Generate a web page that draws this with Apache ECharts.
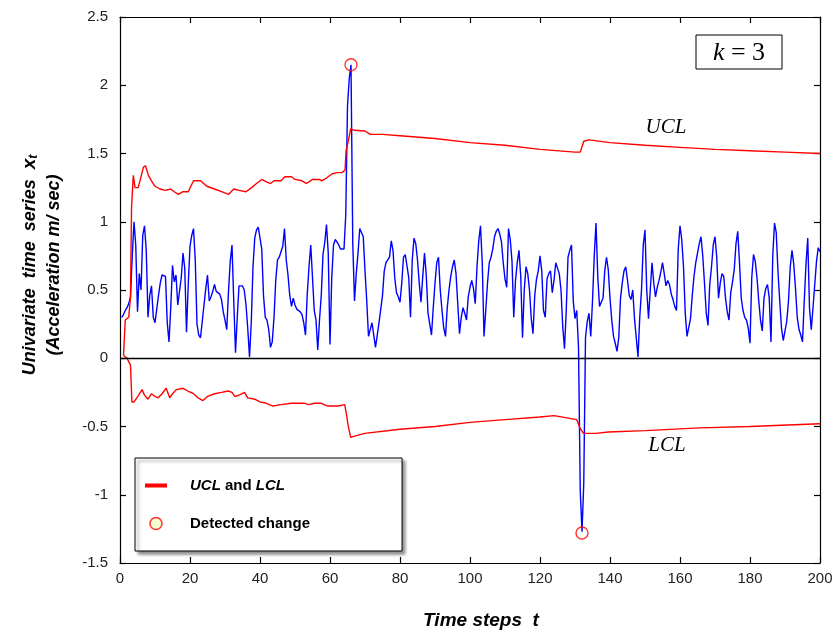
<!DOCTYPE html>
<html>
<head>
<meta charset="utf-8">
<script src="https://cdn.jsdelivr.net/npm/echarts@6/dist/echarts.min.js"></script>
<style>html,body{margin:0;padding:0;background:#fff}#chart{width:837px;height:636px}</style>
</head>
<body>
<div id="chart"></div>
<script>
// ---- data ----
var timeStep = 0.5; // sample spacing of the series (t = 0.5, 1.0, ... 200)
var accel = [
0.30,0.32,0.35,0.37,0.40,0.45,0.75,1.00,0.83,0.34,
0.62,0.50,0.90,0.97,0.79,0.30,0.46,0.53,0.30,0.26,
0.27,0.46,0.55,0.61,0.61,0.60,0.26,0.12,0.37,0.68,
0.56,0.61,0.39,0.39,0.59,0.77,0.66,0.19,0.54,0.82,
0.90,0.95,0.72,0.25,0.17,0.15,0.15,0.39,0.51,0.61,
0.42,0.45,0.49,0.54,0.49,0.48,0.47,0.43,0.34,0.28,
0.21,0.49,0.71,0.83,0.42,0.04,0.30,0.53,0.53,0.53,
0.50,0.39,0.22,0.01,0.26,0.67,0.88,0.94,0.96,0.95,
0.80,0.46,0.30,0.28,0.21,0.08,0.12,0.30,0.57,0.72,
0.74,0.78,0.82,0.95,0.72,0.61,0.46,0.38,0.44,0.39,
0.36,0.35,0.34,0.32,0.26,0.17,0.47,0.67,0.83,0.83,
0.35,0.28,0.06,0.28,0.46,0.76,0.85,0.98,0.77,0.10,
0.59,0.83,0.87,0.85,0.83,0.80,0.80,0.80,1.05,1.85,
2.05,2.15,0.85,0.42,0.62,0.77,0.95,0.96,0.89,0.64,
0.42,0.16,0.21,0.26,0.17,0.08,0.17,0.26,0.36,0.46,
0.64,0.70,0.72,0.74,0.86,0.79,0.59,0.48,0.45,0.41,
0.55,0.74,0.76,0.77,0.59,0.30,0.72,0.88,0.84,0.72,
0.55,0.41,0.60,0.77,0.61,0.33,0.25,0.17,0.37,0.55,
0.70,0.74,0.50,0.35,0.22,0.16,0.37,0.50,0.60,0.67,
0.72,0.62,0.40,0.18,0.30,0.37,0.33,0.28,0.45,0.52,
0.57,0.51,0.40,0.67,0.86,0.97,0.70,0.16,0.35,0.55,
0.70,0.74,0.80,0.89,0.93,0.95,0.91,0.85,0.70,0.58,
0.52,0.95,0.87,0.71,0.30,0.57,0.70,0.79,0.60,0.15,
0.50,0.67,0.62,0.50,0.29,0.18,0.46,0.58,0.64,0.75,
0.64,0.35,0.30,0.58,0.62,0.64,0.48,0.57,0.70,0.66,
0.62,0.50,0.23,0.07,0.35,0.74,0.79,0.83,0.42,0.29,
0.35,0.08,-0.97,-1.27,-0.92,0.15,0.27,0.33,0.16,0.42,
0.75,0.99,0.60,0.38,0.38,0.44,0.64,0.74,0.65,0.44,
0.28,0.16,0.11,0.05,0.15,0.44,0.55,0.64,0.67,0.57,
0.46,0.43,0.50,0.29,0.15,0.01,0.30,0.50,0.83,0.94,
0.50,0.29,0.50,0.70,0.55,0.45,0.52,0.57,0.63,0.70,
0.62,0.53,0.57,0.54,0.47,0.43,0.38,0.35,0.80,0.97,
0.87,0.67,0.33,0.16,0.15,0.29,0.46,0.60,0.70,0.77,
0.84,0.89,0.75,0.55,0.33,0.24,0.54,0.67,0.83,0.89,
0.74,0.44,0.55,0.62,0.60,0.44,0.34,0.28,0.48,0.56,
0.65,0.84,0.93,0.70,0.44,0.35,0.30,0.28,0.22,0.11,
0.59,0.76,0.71,0.59,0.42,0.28,0.20,0.44,0.51,0.54,
0.44,0.12,0.75,0.99,0.92,0.63,0.42,0.22,0.13,0.20,
0.27,0.42,0.67,0.79,0.69,0.51,0.30,0.21,0.17,0.12,
0.42,0.69,0.88,0.37,0.21,0.37,0.54,0.71,0.81,0.78
];

var uclTimes = [1,1.5,2.5,3,3.3,3.8,4.3,5.2,5.7,6.7,7.3,8.1,9,10,11.4,13,14.5,15.5,16.7,18,19.5,21,23,24.8,27,29,31,32.5,34,36,37.6,39,40.5,42,43,44,46,47.1,49,50,52,53.3,55,57,57.6,59,60.5,62,63.5,64.3,64.6,65.3,65.9,67,70,71.5,75,80,90,100,110,120,130,131.5,132.5,134,140,150,160,170,180,190,200];
var uclValues = [0.02,0.28,0.30,0.45,1.11,1.34,1.25,1.25,1.30,1.40,1.41,1.34,1.30,1.26,1.24,1.23,1.24,1.22,1.20,1.22,1.22,1.30,1.30,1.26,1.24,1.22,1.20,1.24,1.23,1.22,1.25,1.28,1.31,1.29,1.28,1.30,1.30,1.33,1.33,1.31,1.30,1.28,1.31,1.31,1.30,1.32,1.35,1.36,1.36,1.38,1.52,1.60,1.68,1.67,1.665,1.64,1.64,1.63,1.61,1.58,1.56,1.53,1.51,1.51,1.59,1.60,1.58,1.56,1.545,1.53,1.52,1.51,1.50];

var lclTimes = [1,2,3,3.4,4,5.1,6.3,7,8,9,10,10.9,12,13.2,14.2,15,16.1,18,19.4,21,22.3,23.7,25,27,29,30.9,32,32.8,34,35.6,36.5,38.5,40,41.8,43.7,46,49,51,52.8,54,55.6,57.5,59.4,62.3,64.2,64.7,65.1,65.9,67,69.9,80,90,100,110,120,124,130.5,131.4,132.4,136,139.5,150,165.7,180,200];
var lclValues = [0.02,0.0,-0.05,-0.32,-0.32,-0.28,-0.23,-0.27,-0.30,-0.26,-0.28,-0.29,-0.26,-0.22,-0.29,-0.26,-0.23,-0.22,-0.24,-0.26,-0.29,-0.31,-0.28,-0.26,-0.25,-0.24,-0.25,-0.28,-0.27,-0.25,-0.29,-0.30,-0.32,-0.33,-0.35,-0.34,-0.33,-0.33,-0.33,-0.34,-0.33,-0.33,-0.35,-0.35,-0.34,-0.41,-0.48,-0.58,-0.57,-0.55,-0.52,-0.50,-0.47,-0.45,-0.43,-0.42,-0.45,-0.51,-0.55,-0.55,-0.54,-0.53,-0.51,-0.50,-0.48];

var detectedTimes = [66, 132];
var detectedValues = [2.15, -1.28];

var xTickMin = 0, xTickMax = 200, xTickStep = 20;
var yTickMin = -1.5, yTickMax = 2.5, yTickStep = 0.5;

// ---- build ----
function zip(a, b) { return a.map(function (v, i) { return [v, b[i]]; }); }
var seriesData = accel.map(function (v, i) { return [(i + 1) * timeStep, v]; });

var FONT = '"Liberation Sans", Arial, sans-serif';
var SERIF = '"Liberation Serif", "Times New Roman", serif';

var chart = echarts.init(document.getElementById('chart'), null, {renderer: 'canvas'});
var axisLineStyle = {color: '#000', width: 1.2};
chart.setOption({
  animation: false,
  backgroundColor: '#fff',
  grid: {left: 120, right: 17, top: 17, bottom: 73, containLabel: false},
  xAxis: [{
    type: 'value', min: xTickMin, max: xTickMax, interval: xTickStep, position: 'bottom',
    axisLine: {show: true, onZero: false, lineStyle: axisLineStyle},
    axisTick: {show: true, inside: true, length: 6, lineStyle: axisLineStyle},
    axisLabel: {color: '#222', fontSize: 15, fontFamily: FONT, margin: 8},
    splitLine: {show: false}
  }, {
    type: 'value', min: xTickMin, max: xTickMax, interval: xTickStep, position: 'top',
    axisLine: {show: true, onZero: false, lineStyle: axisLineStyle},
    axisTick: {show: true, inside: true, length: 6, lineStyle: axisLineStyle},
    axisLabel: {show: false}, splitLine: {show: false}
  }],
  yAxis: [{
    type: 'value', min: yTickMin, max: yTickMax, interval: yTickStep, position: 'left',
    axisLine: {show: true, onZero: false, lineStyle: axisLineStyle},
    axisTick: {show: true, inside: true, length: 6, lineStyle: axisLineStyle},
    axisLabel: {color: '#222', fontSize: 15, fontFamily: FONT, margin: 12},
    splitLine: {show: false}
  }, {
    type: 'value', min: yTickMin, max: yTickMax, interval: yTickStep, position: 'right',
    axisLine: {show: true, onZero: false, lineStyle: axisLineStyle},
    axisTick: {show: true, inside: true, length: 6, lineStyle: axisLineStyle},
    axisLabel: {show: false}, splitLine: {show: false}
  }],
  legend: {
    orient: 'vertical', left: 135, top: 458,
    padding: [20, 92, 20, 10], itemGap: 23, itemWidth: 22, itemHeight: 12,
    symbolKeepAspect: true,
    backgroundColor: '#fff', borderColor: '#000', borderWidth: 1,
    shadowBlur: 3, shadowColor: 'rgba(0,0,0,0.45)', shadowOffsetX: 3, shadowOffsetY: 3,
    textStyle: {fontFamily: FONT, fontSize: 15, fontWeight: 'bold', color: '#000', padding: [0, 0, 0, 18],
      rich: {i: {fontFamily: FONT, fontSize: 15, fontWeight: 'bold', fontStyle: 'italic', color: '#000'}}},
    formatter: function (name) { return name === 'UCL and LCL' ? '{i|UCL} and {i|LCL}' : name; },
    data: [
      {name: 'UCL and LCL', icon: 'path://M0,0L22,0L22,4L0,4Z', itemStyle: {color: '#ff0000', borderWidth: 0}},
      {name: 'Detected change', icon: 'circle', itemStyle: {color: '#f4ffc8', borderColor: '#ff0000', borderWidth: 1.5}}
    ]
  },
  series: [{
    name: 'Univariate time series', type: 'line', data: seriesData,
    symbol: 'none', smooth: false, z: 3,
    lineStyle: {color: '#0000ff', width: 1.4}, itemStyle: {color: '#0000ff'},
    markLine: {silent: true, symbol: 'none', label: {show: false}, animation: false,
      lineStyle: {color: '#000', width: 1.3, type: 'solid'}, data: [{yAxis: 0}]}
  }, {
    name: 'UCL and LCL', type: 'line', data: zip(uclTimes, uclValues),
    symbol: 'none', z: 4, lineStyle: {color: '#ff0000', width: 1.4}, itemStyle: {color: '#ff0000'}
  }, {
    name: 'UCL and LCL', type: 'line', data: zip(lclTimes, lclValues),
    symbol: 'none', z: 4, lineStyle: {color: '#ff0000', width: 1.4}, itemStyle: {color: '#ff0000'}
  }, {
    name: 'Detected change', type: 'scatter', data: zip(detectedTimes, detectedValues),
    symbol: 'circle', symbolSize: 12, z: 5,
    itemStyle: {color: 'rgba(0,0,0,0)', borderColor: '#ff0000', borderWidth: 1.4}
  }],
  graphic: [{
    type: 'text', x: 42, y: 265, rotation: Math.PI / 2,
    style: {
      text: '{a|Univariate  time  series  }{x|x}{s|t}\n{a|(Acceleration m/ sec)}',
      align: 'center', verticalAlign: 'middle',
      rich: {
        a: {fontFamily: FONT, fontSize: 18, fontWeight: 'bold', fontStyle: 'italic', fill: '#000', lineHeight: 24},
        x: {fontFamily: FONT, fontSize: 19, fontWeight: 'bold', fontStyle: 'italic', fill: '#000', lineHeight: 24},
        s: {fontFamily: FONT, fontSize: 12, fontWeight: 'bold', fontStyle: 'italic', fill: '#000', lineHeight: 24, padding: [8, 0, 0, 0]}
      }
    }
  }, {
    type: 'text', x: 481, y: 621,
    style: {text: 'Time steps  t', align: 'center', verticalAlign: 'middle',
      font: 'italic bold 19px ' + FONT, fill: '#000'}
  }, {
    type: 'rect', shape: {x: 696, y: 35, width: 86, height: 34},
    style: {fill: '#fff', stroke: '#000', lineWidth: 1}
  }, {
    type: 'text', x: 739, y: 53,
    style: {text: '{k|k}{e| = 3}', align: 'center', verticalAlign: 'middle',
      rich: {k: {fontFamily: SERIF, fontSize: 26, fontStyle: 'italic', fill: '#000'},
             e: {fontFamily: SERIF, fontSize: 26, fill: '#000'}}}
  }, {
    type: 'text', x: 666, y: 127,
    style: {text: 'UCL', align: 'center', verticalAlign: 'middle', font: 'italic 21px ' + SERIF, fill: '#000'}
  }, {
    type: 'text', x: 667, y: 445,
    style: {text: 'LCL', align: 'center', verticalAlign: 'middle', font: 'italic 21px ' + SERIF, fill: '#000'}
  }]
});
</script>
</body>
</html>
